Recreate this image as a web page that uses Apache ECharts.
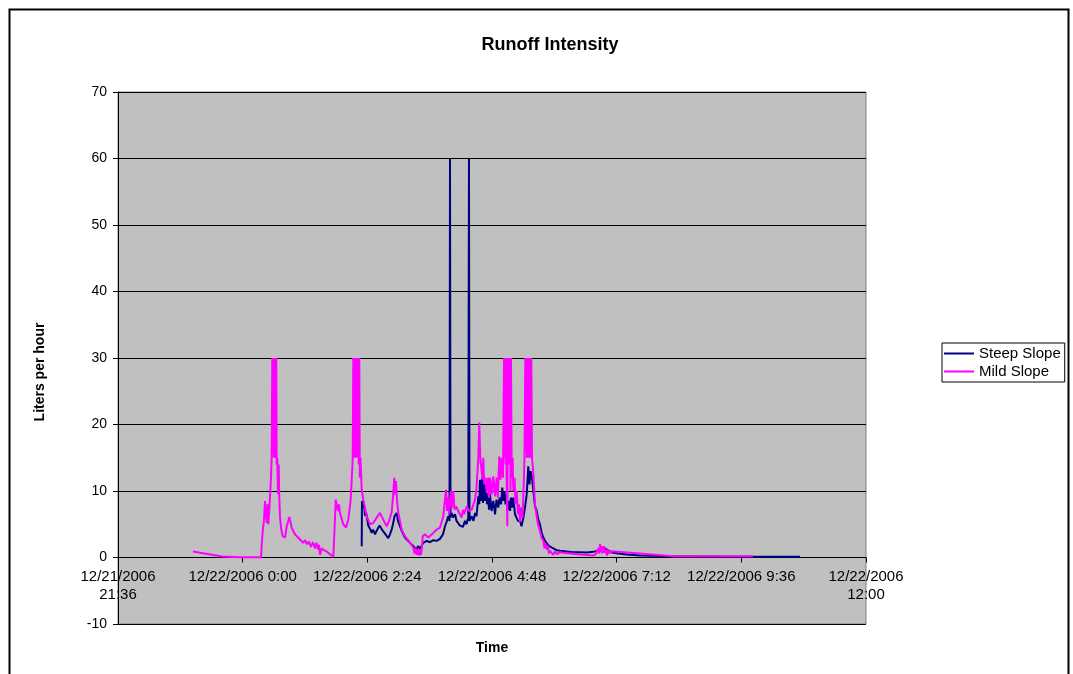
<!DOCTYPE html>
<html>
<head>
<meta charset="utf-8">
<title>Runoff Intensity</title>
<script src="https://cdn.jsdelivr.net/npm/echarts@6/dist/echarts.min.js"></script>
<style>
  html, body { margin: 0; padding: 0; background: #ffffff; }
  #chart { width: 1073px; height: 674px; }
</style>
</head>
<body>
<div id="chart"></div>
<script>
// Time is given in minutes relative to 12/22/2006 0:00 (negative = evening of 12/21).
const xTicksStart = -144;   // 12/21/2006 21:36
const xTicksEnd = 720;      // 12/22/2006 12:00
const xTickStep = 144;      // 2 h 24 min

// Steep Slope plot — runoff in liters per hour
const steepMinutes = [
  137.5, 137.8, 139.3, 140.2, 141.3, 142.5, 145.1, 147.1, 149.0, 150.5,
  152.9, 154.6, 156.7, 158.1, 159.4, 160.9, 162.4, 164.4, 166.1, 168.2,
  170.2, 172.1, 173.6, 175.4, 177.1, 177.9, 179.4, 180.9, 183.7, 187.5,
  193.3, 197.1, 200.2, 202.9, 204.8, 206.6, 208.6, 212.6, 216.4, 220.2,
  224.1, 227.9, 231.4, 233.7, 235.4, 237.5, 238.9, 239.5, 240.1, 241.5,
  243.0, 245.3, 247.0, 249.1, 251.0, 253.0, 254.5, 256.8, 258.5, 260.6,
  261.4, 262.0, 264.6, 266.6, 268.4, 270.1, 272.2, 273.3, 274.1, 275.3,
  276.5, 277.6, 278.8, 279.9, 281.1, 282.2, 283.4, 284.5, 285.7, 287.4,
  289.5, 291.5, 293.2, 295.3, 296.7, 298.4, 299.9, 301.1, 302.4, 303.6,
  305.0, 306.5, 307.6, 308.8, 309.9, 311.1, 312.6, 314.6, 316.5, 318.0,
  320.4, 322.1, 324.2, 326.1, 328.1, 329.9, 331.3, 332.5, 333.9, 335.4,
  337.7, 339.6, 341.5, 343.4, 345.2, 347.3, 349.2, 351.2, 353.3, 357.0,
  359.1, 362.7, 366.6, 374.3, 381.6, 389.7, 397.7, 405.0, 409.3, 412.8,
  416.6, 420.5, 424.3, 428.1, 435.9, 443.6, 459.0, 497.4, 551.4, 643.8
];
const steepValues = [
  1.7, 8.5, 7.5, 8.0, 6.3, 6.8, 4.8, 4.3, 3.7, 4.2,
  3.5, 4.0, 4.3, 4.8, 4.6, 4.2, 4.5, 3.6, 3.3, 2.9,
  3.5, 4.2, 5.0, 6.2, 6.5, 6.7, 5.5, 5.2, 4.0, 3.0,
  2.2, 1.7, 1.2, 1.7, 1.3, 1.5, 2.2, 2.5, 2.3, 2.6,
  2.5, 2.8, 3.5, 4.7, 5.3, 6.2, 5.5, 60, 6.0, 6.7,
  6.0, 6.5, 5.5, 5.2, 4.8, 5.0, 4.6, 5.5, 5.0, 6.0,
  60, 5.5, 6.2, 5.5, 6.7, 6.2, 9.2, 8.0, 11.7, 8.5,
  12.0, 8.2, 12.0, 8.5, 11.5, 8.0, 9.5, 7.2, 9.5, 7.0,
  8.5, 6.5, 8.7, 7.5, 9.0, 8.0, 10.5, 8.5, 10.0, 8.0,
  9.5, 7.2, 8.5, 7.0, 9.0, 7.5, 9.0, 6.5, 6.7, 5.5,
  5.5, 4.7, 6.0, 7.5, 9.5, 13.7, 11.0, 13.0, 12.2, 10.5,
  7.7, 7.0, 5.7, 5.0, 3.8, 3.0, 2.5, 2.2, 1.8, 1.5,
  1.2, 1.1, 1.0, 0.9, 0.8, 0.8, 0.75, 0.85, 1.0, 1.2,
  1.45, 1.2, 0.9, 0.7, 0.55, 0.45, 0.3, 0.2, 0.15, 0.1
];

// Mild Slope plot — runoff in liters per hour
const mildMinutes = [
  -57.4, -23.9, -3.1, 21.2, 22.3, 23.5, 24.6, 25.8, 26.6, 27.8,
  28.7, 29.6, 30.4, 31.6, 32.7, 33.5, 34.2, 34.8, 35.4, 36.0,
  36.5, 37.1, 37.7, 38.3, 38.8, 39.3, 40.0, 40.8, 41.6, 42.3,
  43.1, 44.3, 46.2, 48.9, 50.9, 53.9, 56.6, 60.4, 66.2, 69.7,
  72.0, 74.3, 76.6, 78.9, 81.2, 83.5, 85.3, 87.0, 88.2, 89.3,
  91.3, 93.9, 97.1, 100.9, 104.7, 105.8, 106.7, 107.5, 108.6, 110.1,
  111.3, 112.4, 116.2, 119.4, 122.0, 124.8, 127.1, 127.8, 128.4, 128.9,
  129.5, 130.1, 130.7, 131.3, 131.8, 132.4, 133.0, 133.6, 134.1, 134.7,
  135.3, 136.1, 137.5, 139.3, 143.3, 147.1, 150.9, 154.8, 158.6, 162.4,
  166.4, 169.0, 172.1, 173.6, 175.1, 176.2, 177.1, 178.3, 179.8, 183.7,
  187.5, 193.3, 197.1, 198.5, 199.6, 201.0, 202.5, 203.7, 204.8, 206.0,
  207.1, 208.0, 210.6, 214.4, 220.2, 224.1, 227.9, 231.7, 234.9, 236.0,
  237.5, 238.7, 240.3, 241.8, 243.3, 244.7, 246.4, 250.2, 253.0, 254.5,
  255.7, 258.8, 261.4, 264.6, 266.6, 268.4, 270.1, 272.2, 273.3, 274.5,
  276.1, 277.0, 277.9, 279.1, 280.5, 281.9, 283.4, 284.5, 285.7, 287.4,
  289.5, 291.5, 293.4, 294.7, 296.4, 297.8, 299.2, 300.7, 301.9, 302.4,
  303.0, 303.6, 304.2, 304.9, 305.7, 306.5, 307.1, 307.6, 308.2, 308.8,
  309.4, 309.9, 310.8, 311.9, 312.6, 314.0, 315.2, 316.5, 318.0, 319.2,
  320.4, 321.5, 323.2, 324.4, 325.5, 326.5, 327.0, 327.6, 328.2, 328.8,
  329.4, 329.9, 330.5, 331.1, 331.7, 332.2, 332.8, 333.4, 334.2, 335.7,
  337.7, 339.6, 341.1, 343.4, 345.2, 347.3, 348.6, 349.8, 351.2, 352.7,
  353.8, 355.0, 356.7, 358.8, 360.8, 363.1, 366.6, 370.4, 378.1, 389.7,
  405.0, 408.1, 410.8, 411.9, 412.8, 413.9, 414.7, 415.6, 417.4, 418.5,
  419.7, 420.8, 422.3, 423.7, 425.1, 426.3, 497.4, 589.5
];
const mildValues = [
  0.9, 0.15, 0.05, 0.05, 2.5, 4.5, 5.5, 8.5, 7.0, 5.2,
  8.0, 5.0, 6.5, 9.2, 12, 15, 30, 16, 30, 15,
  30, 18, 30, 15, 30, 14, 15, 9.5, 14, 9,
  6.2, 4.5, 3.2, 3.0, 4.7, 6.1, 4.5, 3.5, 2.7, 2.2,
  2.6, 2.0, 2.4, 1.6, 2.3, 1.4, 2.2, 1.2, 1.9, 0.4,
  1.4, 1.1, 0.9, 0.5, 0.1, 0.2, 6.0, 8.7, 8.6, 7.0,
  8.0, 6.7, 5.0, 4.5, 5.7, 8.7, 14.7, 30, 15, 30,
  16, 30, 15, 30, 18, 30, 15, 30, 14, 30,
  12, 15, 10.2, 8.7, 6.2, 5.0, 5.2, 6.0, 6.7, 5.7,
  4.7, 5.5, 6.8, 9.0, 12.0, 9.5, 11.5, 8.5, 6.7, 4.2,
  3.2, 2.2, 1.5, 0.6, 1.4, 0.4, 1.3, 0.3, 1.2, 0.4,
  1.5, 3.2, 3.5, 3.0, 3.7, 4.2, 4.5, 6.2, 10.2, 7.0,
  9.0, 6.5, 10.0, 7.5, 10.0, 7.2, 7.7, 6.7, 6.0, 7.2,
  6.5, 7.7, 7.0, 7.2, 8.0, 8.7, 10.5, 15.0, 20.3, 15,
  15, 11.7, 15, 11.0, 12.0, 9.7, 12.0, 9.0, 12.0, 9.5,
  12.2, 9.2, 12.0, 9.0, 15.2, 11.7, 15, 12, 30, 15,
  30, 14, 30, 12, 4.7, 30, 14, 30, 15, 30,
  10, 30, 12, 15, 10, 12, 8, 10, 6.5, 8,
  5.3, 7.5, 6.0, 10, 15, 30, 16, 30, 15, 30,
  20, 30, 15, 30, 18, 30, 15, 30, 15, 12.8,
  8.0, 6.2, 5.0, 4.0, 3.0, 2.5, 1.4, 2.2, 1.2, 1.8,
  0.6, 1.0, 1.2, 0.4, 0.9, 0.5, 0.8, 0.7, 0.6, 0.45,
  0.3, 0.5, 1.4, 0.6, 2.0, 0.8, 1.7, 0.6, 1.7, 0.7,
  1.2, 0.3, 1.2, 0.6, 0.5, 0.95, 0.2, 0.2
];

const FONT = '"Liberation Sans", Arial, sans-serif';

function pairs(xs, ys) {
  return xs.map((x, i) => [x, ys[i]]);
}

// Axis label: date + clock time; the two end labels wrap onto two lines.
function timeLabel(m) {
  const day = m < 0 ? 21 : 22;
  const mins = ((Math.round(m) % 1440) + 1440) % 1440;
  const h = Math.floor(mins / 60);
  const mm = String(mins % 60).padStart(2, '0');
  const date = '12/' + day + '/2006';
  const clock = h + ':' + mm;
  if (m === xTicksStart || m === xTicksEnd) return date + '\n' + clock;
  return date + ' ' + clock;
}

const chart = echarts.init(document.getElementById('chart'), null, { renderer: 'canvas' });

// Plot box and the vertical distance from the -10 floor up to the 0 line,
// where the time axis crosses.
const plotTop = 92, plotHeight = 532;
const zeroLift = plotHeight / 8;

chart.setOption({
  animation: false,
  backgroundColor: '#ffffff',
  textStyle: { fontFamily: FONT },
  title: {
    text: 'Runoff Intensity',
    left: 545,
    top: 31,
    textAlign: 'center',
    textStyle: { fontFamily: FONT, fontSize: 18, fontWeight: 'bold', color: '#000' }
  },
  graphic: [
    {
      type: 'rect',
      left: 7,
      top: 7,
      shape: { width: 1059, height: 700 },
      style: { fill: 'none', stroke: '#000', lineWidth: 2 },
      silent: true
    },
    {
      type: 'text',
      x: 40,
      y: 372,
      rotation: Math.PI / 2,
      style: {
        text: 'Liters per hour',
        fontFamily: FONT,
        fontSize: 14,
        fontWeight: 'bold',
        fill: '#000',
        align: 'center',
        verticalAlign: 'middle'
      },
      silent: true
    },
    {
      type: 'text',
      x: 492,
      y: 648,
      style: {
        text: 'Time',
        fontFamily: FONT,
        fontSize: 14,
        fontWeight: 'bold',
        fill: '#000',
        align: 'center',
        verticalAlign: 'middle'
      },
      silent: true
    }
  ],
  legend: {
    orient: 'vertical',
    left: 942,
    top: 343,
    data: ['Steep Slope', 'Mild Slope'],
    icon: 'rect',
    itemWidth: 30,
    itemHeight: 2,
    itemGap: 3,
    padding: [3, 4, 3, 2],
    borderColor: '#000',
    borderWidth: 1,
    backgroundColor: '#ffffff',
    textStyle: { fontFamily: FONT, fontSize: 15, color: '#000' }
  },
  grid: {
    left: 118,
    top: plotTop,
    width: 748,
    height: plotHeight,
    containLabel: false,
    outerBoundsMode: 'none',
    show: true,
    backgroundColor: '#c0c0c0',
    borderColor: '#808080',
    borderWidth: 1
  },
  xAxis: {
    type: 'value',
    min: xTicksStart,
    max: xTicksEnd,
    interval: xTickStep,
    position: 'bottom',
    offset: -zeroLift,
    axisLine: { onZero: false, lineStyle: { color: '#000', width: 1 } },
    axisTick: { show: true, length: 5, lineStyle: { color: '#000' } },
    axisLabel: {
      formatter: timeLabel,
      fontFamily: FONT,
      fontSize: 15,
      color: '#000',
      margin: 10,
      lineHeight: 18,
      showMinLabel: true,
      showMaxLabel: true
    },
    splitLine: { show: false }
  },
  yAxis: {
    type: 'value',
    min: -10,
    max: 70,
    interval: 10,
    axisLine: { show: true, onZero: false, lineStyle: { color: '#000', width: 1 } },
    axisTick: { show: true, length: 5, lineStyle: { color: '#000' } },
    axisLabel: { fontFamily: FONT, fontSize: 14, color: '#000', margin: 11 },
    splitLine: { show: true, lineStyle: { color: '#000', width: 1 } }
  },
  series: [
    {
      name: 'Steep Slope',
      type: 'line',
      data: pairs(steepMinutes, steepValues),
      showSymbol: false,
      symbol: 'none',
      color: '#000080',
      lineStyle: { color: '#000080', width: 2 },
      z: 2
    },
    {
      name: 'Mild Slope',
      type: 'line',
      data: pairs(mildMinutes, mildValues),
      showSymbol: false,
      symbol: 'none',
      color: '#ff00ff',
      lineStyle: { color: '#ff00ff', width: 2 },
      z: 3
    }
  ]
});
</script>
</body>
</html>
